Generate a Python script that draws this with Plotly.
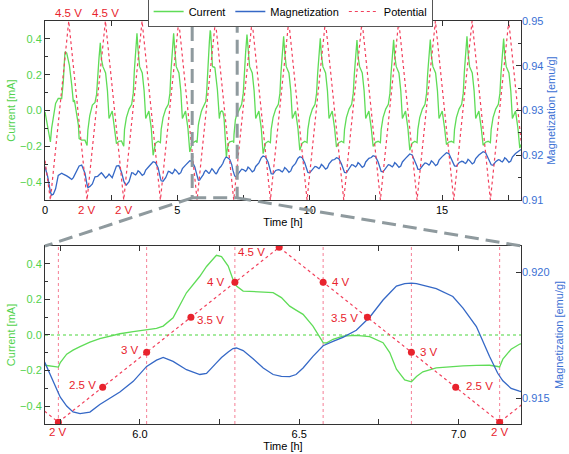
import plotly.graph_objects as go

# ---------------- data ----------------
time_h = [
    0, 0.1, 0.204, 0.25, 0.315, 0.40, 0.50, 0.63, 0.69, 0.755, 0.82, 0.92, 1.01, 1.07, 1.11, 1.17, 1.26, 1.29, 1.385, 1.51,
    1.589, 1.619, 1.689, 1.789, 1.889, 1.949, 1.989, 2.039, 2.089, 2.129, 2.189, 2.289, 2.359, 2.419, 2.539, 2.629, 2.699, 2.789, 2.889,
    2.974, 3.004, 3.074, 3.174, 3.274, 3.334, 3.374, 3.424, 3.474, 3.514, 3.574, 3.674, 3.744, 3.804, 3.924, 4.014, 4.084, 4.174, 4.274,
    4.359, 4.389, 4.459, 4.559, 4.659, 4.719, 4.759, 4.809, 4.859, 4.899, 4.959, 5.059, 5.129, 5.189, 5.309, 5.399, 5.469, 5.559, 5.659, 5.702,
    5.744, 5.750, 5.770, 5.790, 5.812, 5.843, 5.874, 5.906, 5.937, 5.979,
    6.021, 6.052, 6.073, 6.104, 6.146, 6.188, 6.209, 6.240, 6.256, 6.277,
    6.292, 6.303, 6.324, 6.355, 6.387, 6.418, 6.444, 6.470, 6.490, 6.512,
    6.543, 6.575, 6.585, 6.606, 6.637, 6.679, 6.721, 6.763, 6.784, 6.805,
    6.831, 6.852, 6.868, 6.888, 6.930, 6.982, 7.014, 7.056, 7.097, 7.123,
    7.129, 7.139, 7.165, 7.191, 7.229, 7.329, 7.429, 7.489, 7.529, 7.579, 7.629, 7.669, 7.729, 7.829, 7.899, 7.959, 8.079, 8.169, 8.239, 8.329, 8.429,
    8.514, 8.544, 8.614, 8.714, 8.814, 8.874, 8.914, 8.964, 9.014, 9.054, 9.114, 9.214, 9.284, 9.344, 9.464, 9.554, 9.624, 9.714, 9.814,
    9.899, 9.929, 9.999, 10.099, 10.199, 10.259, 10.299, 10.349, 10.399, 10.439, 10.499, 10.599, 10.669, 10.729, 10.849, 10.939, 11.009, 11.099, 11.199,
    11.284, 11.314, 11.384, 11.484, 11.584, 11.644, 11.684, 11.734, 11.784, 11.824, 11.884, 11.984, 12.054, 12.114, 12.234, 12.324, 12.394, 12.484, 12.584,
    12.669, 12.699, 12.769, 12.869, 12.969, 13.029, 13.069, 13.119, 13.169, 13.209, 13.269, 13.369, 13.439, 13.499, 13.619, 13.709, 13.779, 13.869, 13.969,
    14.054, 14.084, 14.154, 14.254, 14.354, 14.414, 14.454, 14.504, 14.554, 14.594, 14.654, 14.754, 14.824, 14.884, 15.004, 15.094, 15.164, 15.254, 15.354,
    15.439, 15.469, 15.539, 15.639, 15.739, 15.799, 15.839, 15.889, 15.939, 15.979, 16.039, 16.139, 16.209, 16.269, 16.389, 16.479, 16.549, 16.639, 16.739,
    16.824, 16.854, 16.924, 17.024, 17.124, 17.184, 17.224, 17.274, 17.324, 17.364, 17.424, 17.524, 17.594, 17.654, 17.774, 17.864, 17.934, 17.98,
]

current_mA = [
    -0.008, -0.09, -0.176, -0.10, -0.03, 0.04, 0.067, 0.067, 0.16, 0.328, 0.32, 0.254, 0.142, 0.048, 0.058, -0.008, -0.08, -0.157, -0.166, -0.166,
    -0.195, -0.11, -0.03, 0.03, 0.045, 0.09, 0.194, 0.291, 0.378, 0.288, 0.245, 0.21, 0.11, -0.045, -0.003, -0.099, -0.185, -0.172, -0.17,
    -0.20, -0.105, -0.04, 0.008, 0.035, 0.097, 0.221, 0.332, 0.431, 0.341, 0.245, 0.21, 0.11, -0.045, -0.003, -0.099, -0.25, -0.183, -0.172,
    -0.18, -0.105, -0.04, 0.008, 0.035, 0.097, 0.221, 0.332, 0.431, 0.341, 0.245, 0.21, 0.11, -0.045, -0.003, -0.099, -0.232, -0.183, -0.172, -0.17,
    -0.180, -0.155, -0.108, -0.085, -0.065, -0.040, -0.020, -0.005, 0.007, 0.019,
    0.028, 0.037, 0.050, 0.097, 0.237, 0.330, 0.385, 0.448, 0.440, 0.387,
    0.312, 0.275, 0.247, 0.243, 0.243, 0.238, 0.210, 0.162, 0.140, 0.116,
    0.050, -0.043, -0.045, -0.024, -0.006, -0.002, -0.009, -0.043, -0.099, -0.192,
    -0.252, -0.263, -0.233, -0.207, -0.185, -0.175, -0.173, -0.171, -0.170, -0.177,
    -0.180, -0.136, -0.080, -0.052, -0.03, 0.008, 0.035, 0.097, 0.218, 0.326, 0.424, 0.334, 0.245, 0.21, 0.11, -0.045, -0.003, -0.099, -0.241, -0.183, -0.172,
    -0.18, -0.105, -0.04, 0.008, 0.035, 0.097, 0.213, 0.319, 0.415, 0.325, 0.245, 0.21, 0.11, -0.045, -0.003, -0.099, -0.222, -0.183, -0.172,
    -0.18, -0.105, -0.04, 0.008, 0.035, 0.097, 0.207, 0.31, 0.403, 0.313, 0.245, 0.21, 0.11, -0.045, -0.003, -0.099, -0.204, -0.18, -0.172,
    -0.18, -0.105, -0.04, 0.008, 0.035, 0.097, 0.202, 0.303, 0.394, 0.304, 0.245, 0.21, 0.11, -0.045, -0.003, -0.099, -0.20, -0.178, -0.172,
    -0.18, -0.105, -0.04, 0.008, 0.035, 0.097, 0.203, 0.304, 0.395, 0.305, 0.245, 0.21, 0.11, -0.045, -0.003, -0.099, -0.222, -0.183, -0.172,
    -0.18, -0.105, -0.04, 0.008, 0.035, 0.097, 0.204, 0.306, 0.397, 0.307, 0.245, 0.21, 0.11, -0.045, -0.003, -0.099, -0.19, -0.176, -0.172,
    -0.18, -0.105, -0.04, 0.008, 0.035, 0.097, 0.213, 0.319, 0.415, 0.325, 0.245, 0.21, 0.11, -0.045, -0.003, -0.099, -0.194, -0.177, -0.172,
    -0.18, -0.105, -0.04, 0.008, 0.035, 0.097, 0.207, 0.31, 0.402, 0.312, 0.245, 0.21, 0.11, -0.045, -0.003, -0.099, -0.21, -0.19,
]

magnetization_emu_g = [
    0.91744, 0.9153, 0.9118, 0.9111, 0.9113, 0.9125, 0.9155, 0.9160, 0.9158, 0.9155, 0.9154, 0.9150, 0.9146, 0.9150, 0.9155, 0.9164, 0.9173, 0.9176, 0.9178, 0.9160,
    0.9134, 0.9128, 0.9130, 0.9136, 0.9152, 0.9152, 0.9153, 0.9156, 0.9160, 0.9161, 0.9157, 0.9149, 0.9153, 0.9158, 0.9150, 0.9165, 0.9176, 0.9177, 0.9162,
    0.9143, 0.9138, 0.91335, 0.9141, 0.9161, 0.9160, 0.91575, 0.9156, 0.9160, 0.91655, 0.91625, 0.9155, 0.9158, 0.9167, 0.9175, 0.91816, 0.91856, 0.91836, 0.91716,
    0.91489, 0.91429, 0.91419, 0.91499, 0.9164, 0.9163, 0.91605, 0.9159, 0.9163, 0.91685, 0.91655, 0.9158, 0.9161, 0.9170, 0.9178, 0.91838, 0.91878, 0.91858, 0.91738, 0.91641,
    0.91522, 0.91505, 0.91470, 0.91447, 0.91440, 0.91446, 0.91476, 0.91503, 0.91526, 0.91568,
    0.91627, 0.91652, 0.91663, 0.91647, 0.91614, 0.91595, 0.91599, 0.91641, 0.91662, 0.91684,
    0.91698, 0.91700, 0.91690, 0.91657, 0.91621, 0.91595, 0.91588, 0.91587, 0.91595, 0.91621,
    0.91667, 0.91709, 0.91715, 0.91726, 0.91742, 0.91770, 0.91822, 0.91890, 0.91918, 0.91945,
    0.91955, 0.91957, 0.91955, 0.91948, 0.91935, 0.91904, 0.91858, 0.91785, 0.91667, 0.91600,
    0.91588, 0.91570, 0.91540, 0.91529, 0.9152, 0.9161, 0.9169, 0.9168, 0.91655, 0.9164, 0.9168, 0.91735, 0.91705, 0.9163, 0.9166, 0.9175, 0.9183, 0.91943, 0.91983, 0.91963, 0.91843,
    0.9165, 0.9159, 0.9158, 0.9166, 0.9168, 0.9167, 0.91645, 0.9163, 0.9167, 0.91725, 0.91695, 0.9162, 0.9165, 0.9174, 0.9182, 0.91928, 0.91968, 0.91948, 0.91828,
    0.91677, 0.91617, 0.91607, 0.91687, 0.9175, 0.9174, 0.91715, 0.917, 0.9174, 0.91795, 0.91765, 0.9169, 0.9172, 0.9181, 0.9189, 0.91905, 0.91945, 0.91925, 0.91805,
    0.91677, 0.91617, 0.91607, 0.91687, 0.9179, 0.9178, 0.91755, 0.9174, 0.9178, 0.91835, 0.91805, 0.9173, 0.9176, 0.9185, 0.9193, 0.9195, 0.9199, 0.9197, 0.9185,
    0.917, 0.9164, 0.9163, 0.9171, 0.9179, 0.9178, 0.91755, 0.9174, 0.9178, 0.91835, 0.91805, 0.9173, 0.9176, 0.9185, 0.9193, 0.91988, 0.92028, 0.92008, 0.91888,
    0.9175, 0.9169, 0.9168, 0.9176, 0.9183, 0.9182, 0.91795, 0.9178, 0.9182, 0.91875, 0.91845, 0.9177, 0.918, 0.9189, 0.9197, 0.92017, 0.92057, 0.92037, 0.91917,
    0.91824, 0.91764, 0.91754, 0.91834, 0.91866, 0.91856, 0.91831, 0.91816, 0.91856, 0.91911, 0.91881, 0.91806, 0.91836, 0.91926, 0.92006, 0.9204, 0.9208, 0.9206, 0.9194,
    0.91847, 0.91787, 0.91777, 0.91857, 0.919, 0.9189, 0.91865, 0.9185, 0.9189, 0.91945, 0.91915, 0.9184, 0.9187, 0.9196, 0.9204, 0.9208, 0.9212, 0.9213,
]

potential_time_h = [0, 0.204, 0.897, 1.589, 2.282, 2.974, 3.667, 4.359, 5.052, 5.744, 6.437, 7.129, 7.822,
                    8.514, 9.207, 9.899, 10.592, 11.284, 11.977, 12.669, 13.362, 14.054, 14.747, 15.439,
                    16.132, 16.824, 17.517, 17.98]
potential_V = [2.55, 2.0, 4.5, 2.0, 4.5, 2.0, 4.5, 2.0, 4.5, 2.0, 4.5, 2.0, 4.5,
               2.0, 4.5, 2.0, 4.5, 2.0, 4.5, 2.0, 4.5, 2.0, 4.5, 2.0,
               4.5, 2.0, 4.5, 2.83]

marker_time_h = [5.744, 5.883, 6.021, 6.160, 6.298, 6.437, 6.575, 6.714, 6.852, 6.991, 7.129]
marker_V = [2.0, 2.5, 3.0, 3.5, 4.0, 4.5, 4.0, 3.5, 3.0, 2.5, 2.0]
marker_labels = ["2 V", "2.5 V", "3 V", "3.5 V", "4 V", "4.5 V", "4 V", "3.5 V", "3 V", "2.5 V", "2 V"]
guide_marker_index = [0, 2, 4, 6, 8, 10]

top_x_range = [0, 17.98]
bottom_x_range = [5.702, 7.196]
zoom_window = [5.56, 7.26]

# ---------------- styles ----------------
GREEN = "#5fdc57"
GREEN_TXT = "#52d24c"
BLUE = "#3568c6"
BLUE_TXT = "#3a70d4"
RED_LINE = "#f2405c"
RED_TXT = "#e8232d"
GRAY = "#8f9a9e"
AXC = "#333333"
FONT = "Arial, 'Liberation Sans', sans-serif"

label_xanchor = ["center", "right", "right", "left", "right", "right", "left", "right", "left", "left", "center"]
label_yanchor = ["top", "middle", "middle", "middle", "middle", "middle", "middle", "middle", "middle", "middle", "top"]
label_xshift = [0, -5, -6, 4, -8, -12, 7, -7, 7, 8, 0]
label_yshift = [-2, 2, 2, -3, 0, -5, 0, -1, 0, 1, -2]

top_dom = [0.5558, 1.0]
bot_dom = [0.0, 0.4417]

fig = go.Figure()
line_w = 1.3
# top panel
fig.add_trace(go.Scatter(x=time_h, y=current_mA, mode="lines", name="Current",
                         line=dict(color=GREEN, width=line_w), xaxis="x", yaxis="y"))
fig.add_trace(go.Scatter(x=time_h, y=magnetization_emu_g, mode="lines", name="Magnetization",
                         line=dict(color=BLUE, width=line_w), xaxis="x", yaxis="y2"))
fig.add_trace(go.Scatter(x=potential_time_h, y=potential_V, mode="lines", name="Potential",
                         line=dict(color=RED_LINE, width=1.2, dash="dot"), xaxis="x", yaxis="y3"))
# bottom panel
fig.add_trace(go.Scatter(x=time_h, y=current_mA, mode="lines", showlegend=False,
                         line=dict(color=GREEN, width=line_w), xaxis="x2", yaxis="y4"))
fig.add_trace(go.Scatter(x=time_h, y=magnetization_emu_g, mode="lines", showlegend=False,
                         line=dict(color=BLUE, width=line_w), xaxis="x2", yaxis="y5"))
fig.add_trace(go.Scatter(x=potential_time_h, y=potential_V, mode="lines", showlegend=False,
                         line=dict(color=RED_LINE, width=1.2, dash="dot"), xaxis="x2", yaxis="y6"))
fig.add_trace(go.Scatter(x=marker_time_h, y=marker_V, mode="markers", showlegend=False,
                         marker=dict(color=RED_TXT, size=7), xaxis="x2", yaxis="y6"))

tickfont = dict(family=FONT, size=11, color="black")
common_x = dict(showgrid=False, zeroline=False, showline=True, linecolor=AXC, linewidth=1,
                mirror="allticks", ticks="inside", ticklen=5, tickcolor=AXC, tickfont=tickfont,
                automargin=False)
common_y = dict(showgrid=False, zeroline=False, ticks="inside", ticklen=5, tickcolor=AXC, automargin=False)

fig.update_layout(
    width=569, height=454,
    margin=dict(l=45, r=48, t=21, b=30, autoexpand=False),
    paper_bgcolor="white", plot_bgcolor="white",
    font=dict(family=FONT, size=11),
    xaxis=dict(common_x, domain=[0, 1], anchor="y", range=top_x_range, tick0=0, dtick=5,
               minor=dict(dtick=2.5, ticks="inside", ticklen=3, tickcolor=AXC),
               title=dict(text="Time [h]", standoff=3, font=dict(family=FONT, size=11, color="black"))),
    yaxis=dict(common_y, domain=top_dom, anchor="x", range=[-0.5, 0.5], tick0=0, dtick=0.2, tickformat=".1f",
               showline=True, linecolor=AXC, mirror=True,
               minor=dict(dtick=0.1, ticks="inside", ticklen=3, tickcolor=AXC),
               tickfont=dict(family=FONT, size=11, color=GREEN_TXT),
               title=dict(text="Current [mA]", standoff=2, font=dict(family=FONT, size=11, color=GREEN_TXT))),
    yaxis2=dict(common_y, overlaying="y", side="right", anchor="x", range=[0.91, 0.95], tick0=0.91, dtick=0.01,
                tickformat=".2f", showline=False,
                minor=dict(dtick=0.005, ticks="inside", ticklen=3, tickcolor=AXC),
                tickfont=dict(family=FONT, size=11, color=BLUE_TXT),
                title=dict(text="Magnetization [emu/g]", standoff=4, font=dict(family=FONT, size=11, color=BLUE_TXT))),
    yaxis3=dict(overlaying="y", range=[2.0, 4.5], visible=False),
    xaxis2=dict(common_x, domain=[0, 1], anchor="y4", range=bottom_x_range, tick0=6.0, dtick=0.5, tickformat=".1f",
                minor=dict(dtick=0.25, ticks="inside", ticklen=3, tickcolor=AXC),
                title=dict(text="Time [h]", standoff=0, font=dict(family=FONT, size=11, color="black"))),
    yaxis4=dict(common_y, domain=bot_dom, anchor="x2", range=[-0.5, 0.5], tick0=0, dtick=0.2, tickformat=".1f",
                showline=True, linecolor=AXC, mirror=True,
                minor=dict(dtick=0.1, ticks="inside", ticklen=3, tickcolor=AXC),
                tickfont=dict(family=FONT, size=11, color=GREEN_TXT),
                title=dict(text="Current [mA]", standoff=2, font=dict(family=FONT, size=11, color=GREEN_TXT))),
    yaxis5=dict(common_y, overlaying="y4", side="right", anchor="x2", range=[0.91399, 0.92104], tick0=0.915,
                dtick=0.005, tickformat=".3f", showline=False,
                tickfont=dict(family=FONT, size=11, color=BLUE_TXT),
                title=dict(text="Magnetization [emu/g]", standoff=6, font=dict(family=FONT, size=11, color=BLUE_TXT))),
    yaxis6=dict(overlaying="y4", range=[1.974, 4.519], visible=False),
    legend=dict(orientation="h", x=0.515, xanchor="center", y=1.062, yanchor="top",
                bgcolor="white", bordercolor="#555555", borderwidth=1, itemwidth=30,
                font=dict(family=FONT, size=11, color="black"), tracegroupgap=0),
)

shapes = []
# zoom window on top panel
shapes.append(dict(type="rect", xref="x", yref="y domain", x0=zoom_window[0], x1=zoom_window[1],
                   y0=0.012, y1=1.0, line=dict(color=GRAY, width=3, dash="14px,7px"), layer="above"))
# connectors in paper coordinates
def top_paper_x(t):
    return (t - top_x_range[0]) / (top_x_range[1] - top_x_range[0])
box_bottom = top_dom[0] + 0.012 * (top_dom[1] - top_dom[0])
shapes.append(dict(type="line", xref="paper", yref="paper", x0=top_paper_x(zoom_window[0]), y0=box_bottom,
                   x1=0, y1=bot_dom[1], line=dict(color=GRAY, width=3, dash="14px,7px")))
shapes.append(dict(type="line", xref="paper", yref="paper", x0=top_paper_x(zoom_window[1]), y0=box_bottom,
                   x1=1, y1=bot_dom[1], line=dict(color=GRAY, width=3, dash="14px,7px")))
# vertical guide lines in bottom panel
for i in guide_marker_index:
    shapes.append(dict(type="line", xref="x2", yref="y4 domain", x0=marker_time_h[i], x1=marker_time_h[i],
                       y0=0, y1=1, line=dict(color="#f57f96", width=1, dash="dot"), layer="below"))
# zero current line
shapes.append(dict(type="line", xref="x2 domain", yref="y4", x0=0, x1=1, y0=0, y1=0,
                   line=dict(color="#86e37e", width=1.5, dash="dot"), layer="below"))

annotations = []
for i, txt in enumerate(marker_labels):
    annotations.append(dict(x=marker_time_h[i], y=marker_V[i], xref="x2", yref="y6", text=txt,
                            showarrow=False, xanchor=label_xanchor[i], yanchor=label_yanchor[i],
                            xshift=label_xshift[i], yshift=label_yshift[i],
                            font=dict(family=FONT, size=11.5, color=RED_TXT)))
for i in (2, 4):
    annotations.append(dict(x=potential_time_h[i], y=potential_V[i], xref="x", yref="y3", text="4.5 V",
                            showarrow=False, xanchor="center", yanchor="bottom", yshift=0,
                            font=dict(family=FONT, size=11.5, color=RED_TXT)))
for i in (3, 5):
    annotations.append(dict(x=potential_time_h[i], y=potential_V[i], xref="x", yref="y3", text="2 V",
                            showarrow=False, xanchor="center", yanchor="top", yshift=-2,
                            font=dict(family=FONT, size=11.5, color=RED_TXT)))

fig.update_layout(shapes=shapes, annotations=annotations)
fig.write_html("out.html", config={"displayModeBar": False},
               post_script="document.body.style.margin='0px';")
